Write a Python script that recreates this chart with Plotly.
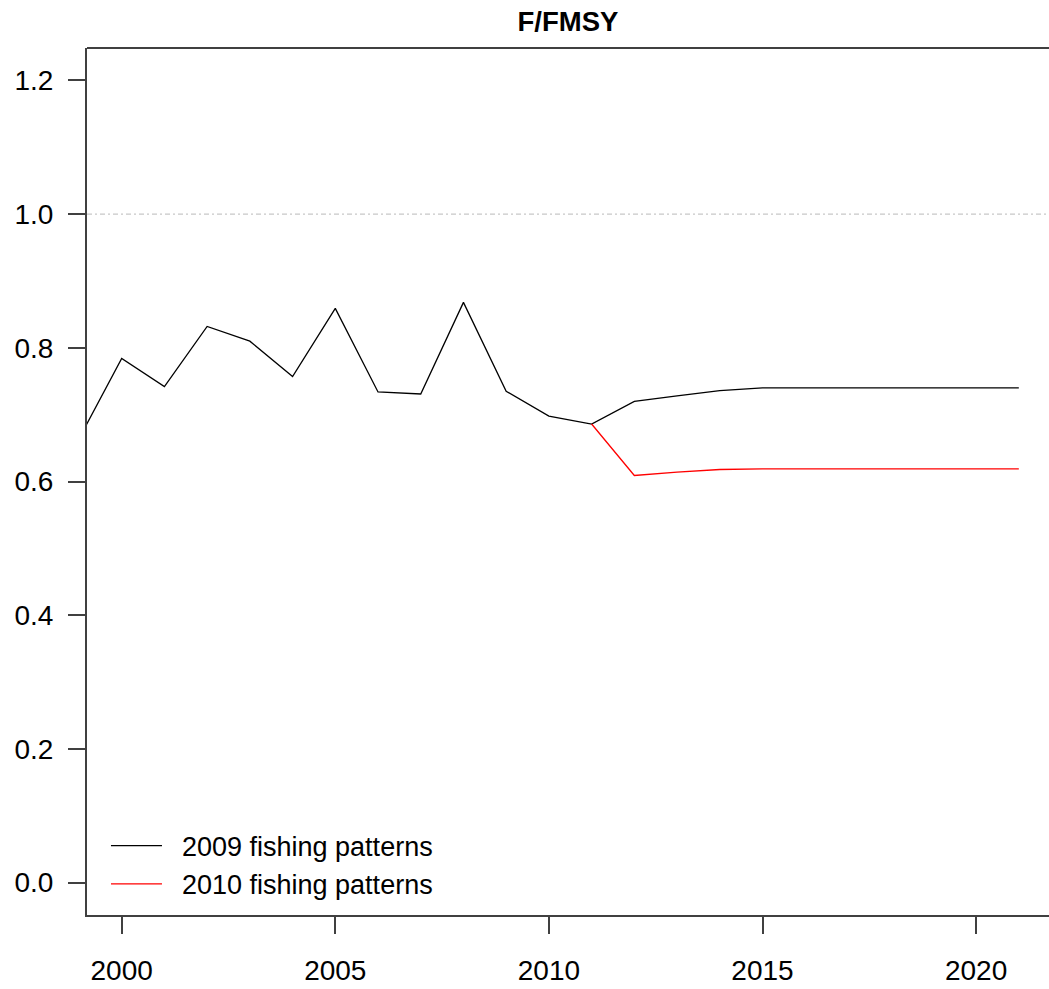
import plotly.graph_objects as go

years_2009 = list(range(1999, 2022))
ffmsy_2009 = [0.664, 0.784, 0.742, 0.832, 0.810, 0.757, 0.859, 0.734, 0.731, 0.868,
              0.735, 0.698, 0.686, 0.720, 0.728, 0.736, 0.740, 0.740, 0.740, 0.740,
              0.740, 0.740, 0.740]
years_2010 = list(range(2011, 2022))
ffmsy_2010 = [0.686, 0.609, 0.614, 0.618, 0.619, 0.619, 0.619, 0.619, 0.619, 0.619, 0.619]
ref_level = 1.0
x_ticks = [2000, 2005, 2010, 2015, 2020]
y_ticks = [0.0, 0.2, 0.4, 0.6, 0.8, 1.0, 1.2]

FONT = "Liberation Sans, Arial, sans-serif"
AX = "#404040"
NB = "\u00a0\u00a0"

fig = go.Figure()
fig.add_trace(go.Scatter(x=years_2009, y=ffmsy_2009, mode="lines", name=NB + "2009 fishing patterns",
                         line=dict(color="#000000", width=1.3)))
fig.add_trace(go.Scatter(x=years_2010, y=ffmsy_2010, mode="lines", name=NB + "2010 fishing patterns",
                         line=dict(color="#FF0000", width=1.3)))

fig.add_hline(y=ref_level, line=dict(color="#C8C8C8", width=1.3, dash="5px,3px,2px,3px"), layer="below")
# top frame line of the plot box (right side is cut off in the original)
fig.add_shape(type="line", xref="paper", yref="paper", x0=0, x1=1, y0=1, y1=1,
              line=dict(color=AX, width=2))

# plot box extends past the right edge of the 1049px window, as in the original
fig.update_layout(
    width=1060, height=989,
    margin=dict(l=87, r=0, t=48, b=74),
    paper_bgcolor="white", plot_bgcolor="white",
    font=dict(family=FONT, size=28, color="black"),
    title=dict(text="<b>F/FMSY</b>", x=0.4943, xref="paper", xanchor="center",
               y=1 - 21 / 989, yref="container", yanchor="middle",
               font=dict(family=FONT, size=27.5, color="black")),
    showlegend=True,
    legend=dict(x=0.0195, y=0.0073, xanchor="left", yanchor="bottom", bgcolor="rgba(0,0,0,0)",
                borderwidth=0, font=dict(family=FONT, size=27, color="black"),
                tracegroupgap=0, itemwidth=51),
)
fig.update_xaxes(range=[1999.188, 2021.964], tickvals=x_ticks, ticktext=[str(v) for v in x_ticks],
                 showgrid=False, zeroline=False, showline=True, mirror=False, automargin=False,
                 linecolor=AX, linewidth=2, ticks="outside", ticklen=17, tickwidth=2,
                 tickcolor=AX, ticklabelstandoff=12,
                 tickfont=dict(family=FONT, size=28, color="black"))
fig.update_yaxes(range=[-0.0484, 1.2485], tickvals=y_ticks, ticktext=[f"{v:.1f}" for v in y_ticks],
                 showgrid=False, zeroline=False, showline=True, mirror=False, automargin=False,
                 linecolor=AX, linewidth=2, ticks="outside", ticklen=17, tickwidth=2,
                 tickcolor=AX, ticklabelstandoff=9,
                 tickfont=dict(family=FONT, size=28, color="black"))

fig.write_html("out.html", config={"displayModeBar": False},
               post_script="document.body.style.margin='0';document.body.style.overflow='hidden';")
